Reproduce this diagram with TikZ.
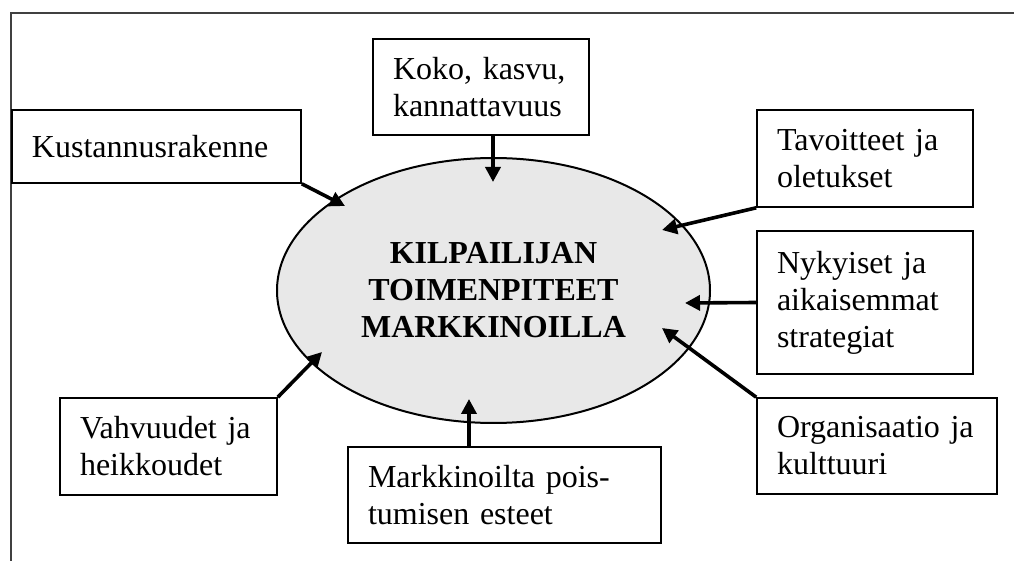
\documentclass[tikz,border=0pt]{standalone}
\usepackage{fontspec}
\setmainfont{Liberation Serif}
\usetikzlibrary{arrows.meta,shapes.geometric}
\definecolor{ovalgray}{gray}{0.91}
\definecolor{framegray}{gray}{0.25}
\begin{document}
\begin{tikzpicture}[
    x=0.5pt,y=-0.5pt,
    every node/.style={font=\fontsize{16}{18.5}\selectfont},
    frame/.style={draw=framegray, line width=1pt},
    factor/.style={rectangle, draw=black, line width=0.8pt, align=left, inner xsep=10pt, inner ysep=0pt},
    oval/.style={ellipse, draw=black, line width=1pt, fill=ovalgray, inner sep=0pt,
        minimum width=216.5pt, minimum height=132.5pt, align=center, font=\fontsize{16}{18.5}\selectfont\bfseries},
    feed/.style={-{Triangle[length=7.5pt,width=7.5pt]}, line width=1.8pt}
]
    \useasboundingbox (0,0) rectangle (1014,561);
    \draw[frame] (11,561) -- (11,13) -- (1014,13);

    \node[oval] (oval) at (493.5,290.5) {KILPAILIJAN\\TOIMENPITEET\\MARKKINOILLA};

    \node[factor, text width=124.5pt, minimum height=36.5pt] (kust) at (156.5,146.5) {Kustannusrakenne};
    \node[factor, text width=88pt, minimum height=48pt] (koko) at (481,87) {Koko, kasvu,\\kannattavuus};
    \node[factor, text width=88pt, minimum height=48.5pt] (tavo) at (865,158.5) {Tavoitteet ja\\oletukset};
    \node[factor, text width=88pt, minimum height=71.5pt] (nyky) at (865,302.5) {Nykyiset ja\\aikaisemmat\\strategiat};
    \node[factor, text width=100pt, minimum height=48pt] (org) at (877,446) {Organisaatio ja\\kulttuuri};
    \node[factor, text width=136.5pt, minimum height=48pt] (poist) at (504.5,495) {Markkinoilta pois-\\tumisen esteet};
    \node[factor, text width=88.5pt, minimum height=48.5pt] (vahv) at (168.5,446.5) {Vahvuudet ja\\heikkoudet};

    % arrow tips inside the oval
    \coordinate (tipKust) at (345,206);
    \coordinate (tipKoko) at (493,182);
    \coordinate (tipTavo) at (662,230);
    \coordinate (tipNyky) at (685,303);
    \coordinate (tipOrg) at (662,328);
    \coordinate (tipPoist) at (469,399);
    \coordinate (tipVahv) at (322,352);

    \foreach \from/\to in {kust.south east/tipKust, tavo.south west/tipTavo,
        nyky.west/tipNyky, org.north west/tipOrg, vahv.north east/tipVahv} {
        \draw[feed] (\from) -- (\to);
    }
    \draw[feed] (koko.south -| tipKoko) -- (tipKoko);
    \draw[feed] (poist.north -| tipPoist) -- (tipPoist);
\end{tikzpicture}
\end{document}
